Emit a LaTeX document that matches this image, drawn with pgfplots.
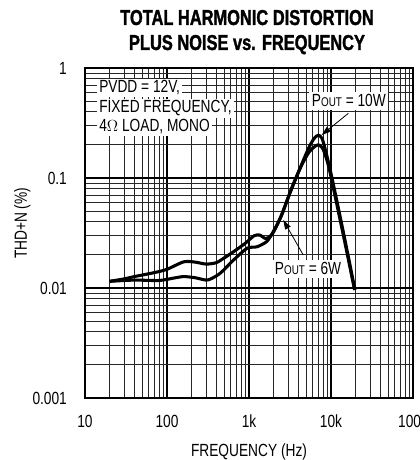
\documentclass[border=0pt]{standalone}
\usepackage{fontspec}
\setmainfont[FakeStretch=0.78]{Liberation Sans}
\newfontfamily\titlefont[FakeStretch=0.76,BoldFeatures={FakeBold=1.4}]{Liberation Sans}
\usepackage{pgfplots}
\pgfplotsset{compat=1.18}
\usetikzlibrary{arrows.meta}

\newcommand{\pout}{P{\fontsize{9.5}{9.5}\selectfont OUT}}

\begin{document}
\fontsize{13.2}{15}\selectfont
\begin{tikzpicture}
\useasboundingbox (-63.75pt,-46.5pt) rectangle (251.25pt,298.5pt);
\begin{axis}[
  scale only axis,
  width=246pt, height=247.5pt,
  xmode=log, ymode=log,
  xmin=10, xmax=100000,
  ymin=0.001, ymax=1,
  xtick={10,100,1000,10000,100000},
  xticklabels={10,100,1k,10k,100k},
  ytick={0.001,0.01,0.1,1},
  yticklabels={0.001,0.01,0.1,1},
  /pgf/number format/assume math mode=true,
  major tick length=0pt, minor tick length=0pt,
  grid=both,
  major grid style={black, line width=1.2pt},
  minor grid style={black!85, line width=0.8pt},
  axis line style={line width=1.9pt},
  xticklabel style={yshift=-8pt},
  yticklabel style={xshift=-9pt},
  tick label style={font=\fontsize{13.2}{15}\selectfont},
]
% POUT = 10W
\addplot[black, line width=2.3pt, smooth, tension=0.45] coordinates {
  (20,0.0115) (30,0.0121) (40,0.0127) (70,0.0138) (100,0.0148)
  (160,0.0173) (220,0.0172) (300,0.0165) (400,0.0170) (500,0.0188)
  (650,0.0214) (900,0.0255) (1150,0.0298) (1350,0.0303) (1600,0.0282)
  (1900,0.0305) (2400,0.043) (3200,0.075) (4200,0.123) (5300,0.185)
  (6200,0.228) (7000,0.245) (7800,0.228) (8800,0.165) (10000,0.110)
  (12000,0.058) (15000,0.026) (19600,0.0096)
};
% POUT = 6W
\addplot[black, line width=2.3pt, smooth, tension=0.45] coordinates {
  (20,0.0115) (40,0.0118) (80,0.0117) (120,0.0123) (160,0.0127)
  (220,0.0124) (300,0.0118) (350,0.0122) (450,0.0137) (650,0.018)
  (950,0.023) (1250,0.0237) (1650,0.0265) (2000,0.033) (2500,0.046)
  (3300,0.080) (4300,0.127) (5400,0.172) (6500,0.196) (7200,0.199)
  (8000,0.183) (9000,0.142) (10000,0.103) (12000,0.054) (15000,0.0245)
  (19400,0.0096)
};
\end{axis}

% title
\node[anchor=base] at (121.5pt,279.75pt) {\titlefont\bfseries\fontsize{16.2}{18}\selectfont TOTAL HARMONIC DISTORTION};
\node[anchor=base] at (121.5pt,261pt) {\titlefont\bfseries\fontsize{16.2}{18}\selectfont PLUS NOISE vs. FREQUENCY};

% axis labels
\node[anchor=base] at (123pt,-43.5pt) {FREQUENCY (Hz)};
\node[rotate=90] at (-47pt,131pt) {THD+N (\%)};

% conditions
\node[anchor=base west, fill=white, inner sep=1.5pt] at (9pt,228.75pt) {PVDD = 12V,};
\node[anchor=base west, fill=white, inner sep=1.5pt] at (9pt,213.75pt) {FIXED FREQUENCY,};
\node[anchor=base west, fill=white, inner sep=1.5pt] at (9pt,199.5pt) {4$\Omega$ LOAD, MONO};

% curve labels
\node[anchor=base west, fill=white, inner sep=2pt] at (168pt,218.25pt) {\pout{} = 10W};
\node[anchor=base west, fill=white, inner sep=2pt] at (140.25pt,92.25pt) {\pout{} = 6W};
\draw[-{Triangle[length=7pt,width=4.5pt]}, line width=0.6pt] (197.5pt,213.5pt) -- (177.5pt,197.25pt);
\draw[-{Triangle[length=7pt,width=4.5pt]}, line width=0.6pt] (163.7pt,107.25pt) -- (148.7pt,133.5pt);
\end{tikzpicture}
\end{document}
